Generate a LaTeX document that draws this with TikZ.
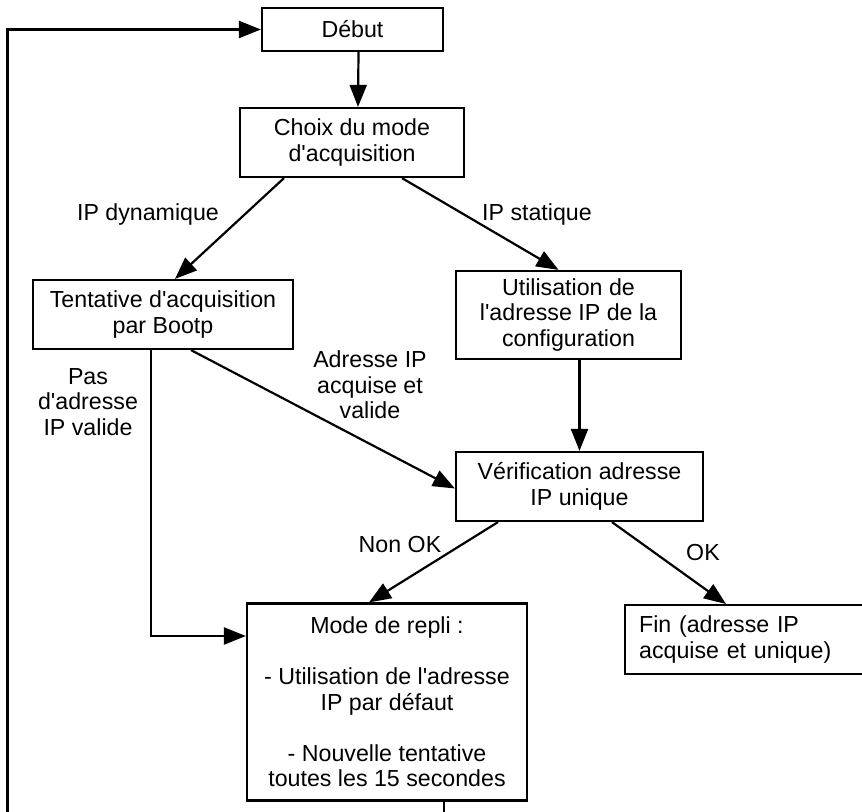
\documentclass[tikz,border=0pt]{standalone}
\usepackage{fontspec}
\setmainfont{Liberation Sans}
\usetikzlibrary{arrows.meta}
\newcommand\ap{\textquotesingle}

\begin{document}
\begin{tikzpicture}[
  x=0.5pt, y=-0.5pt,
  font=\fontsize{11.6}{12.75}\selectfont,
  >={Triangle[length=11pt, width=8.5pt]},
  stepbox/.style={draw, line width=1.1pt, align=center, inner sep=0pt},
  flow/.style={->, line width=1.1pt},
  lbl/.style={align=center, inner sep=0pt},
]
\useasboundingbox (0,0) rectangle (862,812);
\clip (0,0) rectangle (862,812);

% ---- boxes ----
\node[stepbox, minimum width=90.5pt, minimum height=21.5pt] (debut) at (352.5,29.5) {Début};
\node[stepbox, minimum width=112pt, minimum height=34.5pt] (choix) at (352,142.5) {Choix du mode\\d\ap acquisition};
\node[stepbox, minimum width=130pt, minimum height=34.5pt] (tent) at (163,314.5) {Tentative d\ap acquisition\\par Bootp};
\node[stepbox, minimum width=112.5pt, minimum height=44pt] (util) at (568.5,315) {Utilisation de\\l\ap adresse IP de la\\configuration};
\node[stepbox, minimum width=123.5pt, minimum height=34.5pt] (verif) at (579.5,486.5) {Vérification adresse\\IP unique};
\node[stepbox, minimum width=140pt, minimum height=98.5pt] (repli) at (387,702)
  {Mode de repli :\\[\baselineskip]- Utilisation de l\ap adresse\\IP par défaut\\[\baselineskip]- Nouvelle tentative\\toutes les 15 secondes};
\node[stepbox, align=left, anchor=north west, text width=114pt, inner xsep=7pt,
      minimum height=34.5pt] (fin) at (624,604) {Fin (adresse IP\\acquise et unique)};

% ---- labels ----
\node[lbl] (ldyn) at (148,215) {IP dynamique};
\node[lbl] (lstat) at (537,215) {IP statique};
\node[lbl] (lpas) at (88,402) {Pas\\d\ap adresse\\IP valide};
\node[lbl] (lacq) at (370,385) {Adresse IP\\acquise et\\valide};
\node[lbl] (lnok) at (400,545) {Non OK};
\node[lbl] (lok) at (703,553) {OK};

% ---- flows ----
\draw[flow] ([xshift=3pt]debut.south) -- ([xshift=3pt]choix.north);
\draw[flow] ([xshift=-34pt]choix.south) -- ([xshift=6pt]tent.north);
\draw[flow] ([xshift=25pt]choix.south) -- ([xshift=-5pt]util.north);
\draw[flow] ([xshift=14pt]tent.south) -- ([yshift=-1pt]verif.west);
\draw[flow] (util.south -| verif.north) -- (verif.north);
\draw[flow] ([xshift=-40.75pt]verif.south) -- ([xshift=-9pt]repli.north);
\draw[flow] ([xshift=16.25pt]verif.south) -- ([xshift=51pt]fin.north west);
\draw[flow] ([xshift=-6pt]tent.south) |- ([yshift=33pt]repli.west);

% retry loop back to the start
\coordinate (loopr) at (444,830);
\coordinate (loopl) at (7.5,830);
\draw[flow] (repli.south -| loopr) -- (loopr) -- (loopl) |- (debut.west);
\end{tikzpicture}
\end{document}
